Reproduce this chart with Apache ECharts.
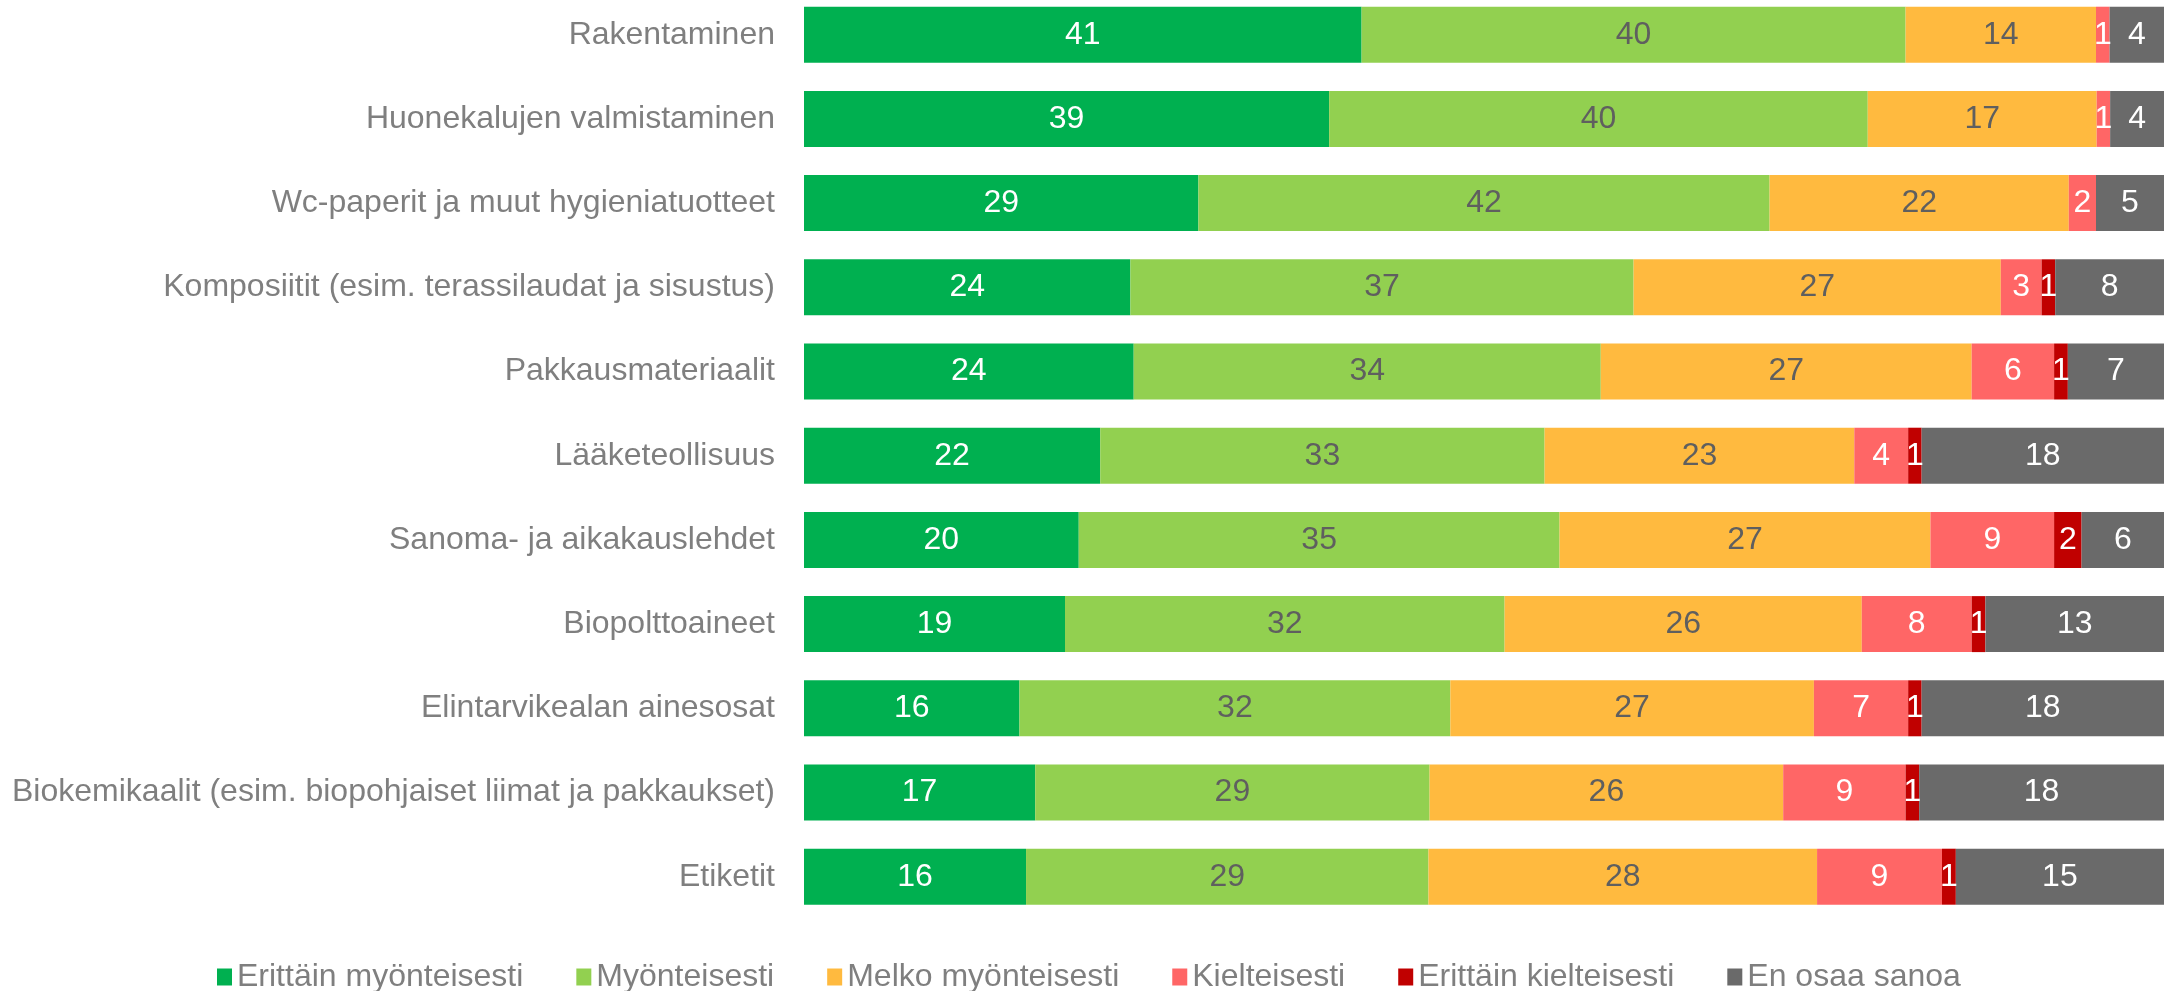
<!DOCTYPE html>
<html>
<head>
<meta charset="utf-8">
<script src="https://cdn.jsdelivr.net/npm/echarts@6/dist/echarts.min.js"></script>
<style>
  html, body { margin: 0; padding: 0; background: #fff; }
  #chart { width: 2164px; height: 991px; }
</style>
</head>
<body>
<div id="chart"></div>
<script>
// kategoriat ylhäältä alas
var categories = [
  'Rakentaminen',
  'Huonekalujen valmistaminen',
  'Wc-paperit ja muut hygieniatuotteet',
  'Komposiitit (esim. terassilaudat ja sisustus)',
  'Pakkausmateriaalit',
  'Lääketeollisuus',
  'Sanoma- ja aikakauslehdet',
  'Biopolttoaineet',
  'Elintarvikealan ainesosat',
  'Biokemikaalit (esim. biopohjaiset liimat ja pakkaukset)',
  'Etiketit'
]

var seriesNames = ['Erittäin myönteisesti', 'Myönteisesti', 'Melko myönteisesti', 'Kielteisesti', 'Erittäin kielteisesti', 'En osaa sanoa']

var erittainMyonteisesti = [41, 39, 29, 24, 24, 22, 20, 19, 16, 17, 16]
var myonteisesti = [40, 40, 42, 37, 34, 33, 35, 32, 32, 29, 29]
var melkoMyonteisesti = [14, 17, 22, 27, 27, 23, 27, 26, 27, 26, 28]
var kielteisesti = [1, 1, 2, 3, 6, 4, 9, 8, 7, 9, 9]
var erittainKielteisesti = [0, 0, 0, 1, 1, 1, 2, 1, 1, 1, 1]
var enOsaaSanoa = [4, 4, 5, 8, 7, 18, 6, 13, 18, 18, 15]

var colors = ['#00B050', '#92D050', '#FFBA3F', '#FF6666', '#C00000', '#6A6A6A']
var labelColors = ['#fff', '#5F5F5F', '#5F5F5F', '#fff', '#fff', '#fff']

var raw = [erittainMyonteisesti, myonteisesti, melkoMyonteisesti, kielteisesti, erittainKielteisesti, enOsaaSanoa]

// 100 % pinottu: jokainen rivi skaalataan summaansa
var totals = categories.map(function (c, i) {
  var s = 0
  raw.forEach(function (arr) { s += arr[i] })
  return s
})

var font = 'Liberation Sans, Arial, sans-serif'

var series = raw.map(function (arr, k) {
  return {
    name: seriesNames[k],
    type: 'bar',
    stack: 'total',
    barCategoryGap: '33.5%',
    itemStyle: { color: colors[k] },
    label: {
      show: true,
      position: 'inside',
      color: labelColors[k],
      fontSize: 32,
      fontFamily: font,
      formatter: function (p) {
        return p.data.raw ? String(p.data.raw) : ''
      }
    },
    emphasis: { disabled: true },
    data: arr.map(function (v, i) {
      return { value: v / totals[i] * 100, raw: v }
    })
  }
})

var chart = echarts.init(document.getElementById('chart'))
chart.setOption({
  animation: false,
  color: colors,
  textStyle: { fontFamily: font },
  grid: {
    left: 804,
    right: 0,
    top: -7.4,
    height: 926.2,
    containLabel: false,
    outerBoundsMode: 'none'
  },
  legend: {
    data: seriesNames,
    left: 212,
    top: 956,
    icon: 'rect',
    itemWidth: 15,
    itemHeight: 17,
    itemGap: 53,
    textStyle: { color: '#7F7F7F', fontSize: 32, fontFamily: font }
  },
  xAxis: {
    type: 'value',
    min: 0,
    max: 100,
    show: false
  },
  yAxis: {
    type: 'category',
    inverse: true,
    data: categories,
    axisLine: { show: false },
    axisTick: { show: false },
    axisLabel: {
      color: '#7F7F7F',
      fontSize: 32,
      fontFamily: font,
      margin: 29
    }
  },
  series: series
})
</script>
</body>
</html>
